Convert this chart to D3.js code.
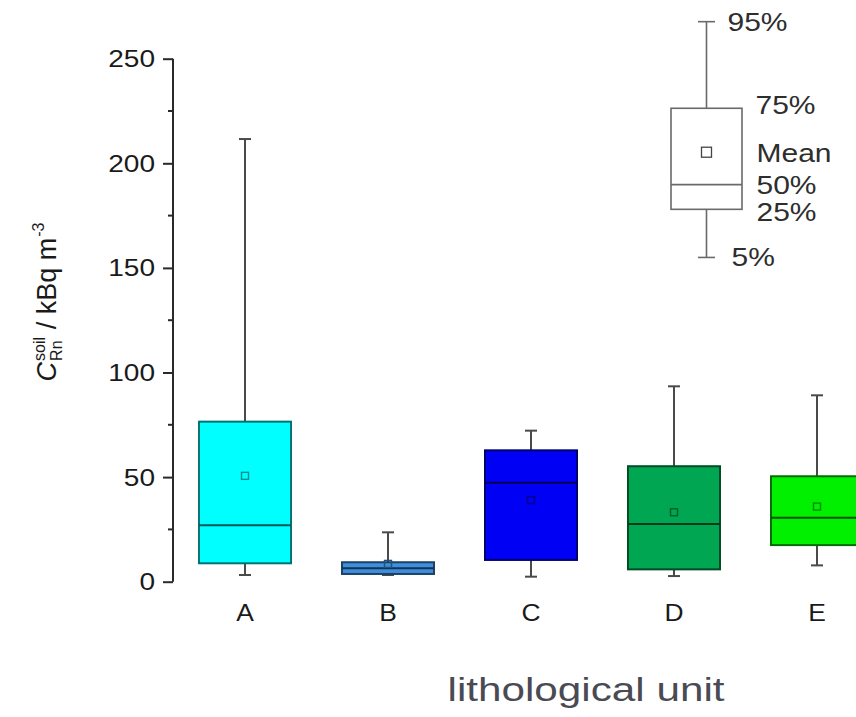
<!DOCTYPE html>
<html>
<head>
<meta charset="utf-8">
<script src="https://cdn.jsdelivr.net/npm/d3@7"></script>
<style>
  html, body { margin: 0; padding: 0; background: #fff; }
  svg { display: block; font-family: "Liberation Sans", Arial, sans-serif; }
</style>
</head>
<body>
<svg id="chart" width="856" height="717"></svg>
<script>
// ---- data ----
const categories = ["A", "B", "C", "D", "E"];
const p5   = [3.2, 3.2, 2.4, 2.7, 7.8];
const p25  = [8.8, 3.7, 10.4, 5.9, 17.5];
const p50  = [27.0, 6.4, 47.3, 27.6, 30.6];
const p75  = [76.5, 9.3, 62.8, 55.2, 50.4];
const p95  = [211.6, 23.6, 72.2, 93.4, 89.1];
const means = [50.6, 8.5, 39.0, 33.2, 35.9];
const yTicks = [0, 50, 100, 150, 200, 250];
const yMinorTicks = [25, 75, 125, 175, 225];
const fills = ["#00FFFF", "#3D8FDE", "#0000F4", "#00A651", "#00F000"];
// legend schematic, expressed on the same value axis
const legendLabels = ["95%", "75%", "Mean", "50%", "25%", "5%"];
const legendStats = { p5: 155, p25: 178, p50: 189.8, mean: 205.3, p75: 226.3, p95: 267.7 };

const svg = d3.select("#chart");

const y = d3.scaleLinear().domain([0, 250]).range([581.7, 58.7]);
const x = d3.scalePoint().domain(categories).range([173.5, 888.5]).padding(0.5);
const boxW = 92, capW = 12;

const rows = categories.map((c, i) => ({
  cat: c, p5: p5[i], p25: p25[i], p50: p50[i], p75: p75[i], p95: p95[i], mean: means[i], fill: fills[i]
}));

// ---- y axis ----
const axisX = 173;
const yAxis = d3.axisLeft(y).tickValues(yTicks).tickSize(10).tickPadding(8).tickFormat(d3.format("d"));
const gy = svg.append("g").attr("transform", `translate(${axisX},0)`).call(yAxis);
gy.select(".domain").attr("stroke", "#2a2a2a").attr("stroke-width", 2).attr("d", `M0,${y(0)}V${y(250)}`);
gy.selectAll(".tick line").attr("stroke", "#2a2a2a").attr("stroke-width", 2);
gy.selectAll(".tick text")
  .attr("fill", "#1a1a1a")
  .attr("font-size", 23)
  .attr("font-family", "Liberation Sans, Arial, sans-serif")
  .attr("x", null).attr("dy", null)
  .attr("text-anchor", "end")
  .attr("dominant-baseline", "central")
  .attr("transform", "translate(-18,0) scale(1.22,1)");
const gyMinor = svg.append("g").attr("transform", `translate(${axisX},0)`);
gyMinor.selectAll("line").data(yMinorTicks).join("line")
  .attr("x1", -5).attr("x2", 0)
  .attr("y1", d => y(d)).attr("y2", d => y(d))
  .attr("stroke", "#2a2a2a").attr("stroke-width", 2);

// ---- x tick labels ----
svg.append("g").selectAll("text").data(categories).join("text")
  .attr("transform", d => `translate(${x(d)},621) scale(1.1,1)`)
  .attr("text-anchor", "middle")
  .attr("font-size", 24)
  .attr("fill", "#1a1a1a")
  .text(d => d);

// ---- boxes ----
const g = svg.append("g");
const boxes = g.selectAll("g.box").data(rows).join("g").attr("class", "box");
// whiskers
boxes.append("line").attr("x1", d => x(d.cat)).attr("x2", d => x(d.cat))
  .attr("y1", d => y(d.p95)).attr("y2", d => y(d.p75))
  .attr("stroke", "#4a4a4a").attr("stroke-width", 2);
boxes.append("line").attr("x1", d => x(d.cat)).attr("x2", d => x(d.cat))
  .attr("y1", d => y(d.p25)).attr("y2", d => y(d.p5))
  .attr("stroke", "#4a4a4a").attr("stroke-width", 2);
boxes.append("line").attr("x1", d => x(d.cat) - capW / 2).attr("x2", d => x(d.cat) + capW / 2)
  .attr("y1", d => y(d.p95)).attr("y2", d => y(d.p95))
  .attr("stroke", "#4a4a4a").attr("stroke-width", 2);
boxes.append("line").attr("x1", d => x(d.cat) - capW / 2).attr("x2", d => x(d.cat) + capW / 2)
  .attr("y1", d => y(d.p5)).attr("y2", d => y(d.p5))
  .attr("stroke", "#4a4a4a").attr("stroke-width", 2);
// box
boxes.append("rect")
  .attr("x", d => x(d.cat) - boxW / 2).attr("width", boxW)
  .attr("y", d => y(d.p75)).attr("height", d => y(d.p25) - y(d.p75))
  .attr("fill", d => d.fill)
  .attr("stroke", d => d3.color(d.fill).darker(2.2))
  .attr("stroke-width", 2);
// median
boxes.append("line")
  .attr("x1", d => x(d.cat) - boxW / 2).attr("x2", d => x(d.cat) + boxW / 2)
  .attr("y1", d => y(d.p50)).attr("y2", d => y(d.p50))
  .attr("stroke", d => d3.color(d.fill).darker(3)).attr("stroke-width", 2);
// mean marker
boxes.append("rect")
  .attr("x", d => x(d.cat) - 3.5).attr("y", d => y(d.mean) - 3.5)
  .attr("width", 7).attr("height", 7)
  .attr("fill", "none")
  .attr("stroke", d => d3.color(d.fill).darker(1.6)).attr("stroke-width", 1.4);

// ---- legend schematic ----
const lx = 706.5, lW = 71, lCap = 17;
const lg = svg.append("g");
const lStroke = "#6a6a6a";
lg.append("line").attr("x1", lx).attr("x2", lx).attr("y1", y(legendStats.p95)).attr("y2", y(legendStats.p75))
  .attr("stroke", lStroke).attr("stroke-width", 1.6);
lg.append("line").attr("x1", lx).attr("x2", lx).attr("y1", y(legendStats.p25)).attr("y2", y(legendStats.p5))
  .attr("stroke", lStroke).attr("stroke-width", 1.6);
[legendStats.p95, legendStats.p5].forEach(v => {
  lg.append("line").attr("x1", lx - lCap / 2).attr("x2", lx + lCap / 2).attr("y1", y(v)).attr("y2", y(v))
    .attr("stroke", lStroke).attr("stroke-width", 1.6);
});
lg.append("rect").attr("x", lx - lW / 2).attr("width", lW)
  .attr("y", y(legendStats.p75)).attr("height", y(legendStats.p25) - y(legendStats.p75))
  .attr("fill", "#fff").attr("stroke", lStroke).attr("stroke-width", 1.6);
lg.append("line").attr("x1", lx - lW / 2).attr("x2", lx + lW / 2)
  .attr("y1", y(legendStats.p50)).attr("y2", y(legendStats.p50))
  .attr("stroke", lStroke).attr("stroke-width", 1.6);
lg.append("rect").attr("x", lx - 5).attr("y", y(legendStats.mean) - 5).attr("width", 10).attr("height", 10)
  .attr("fill", "#fff").attr("stroke", "#444").attr("stroke-width", 1.3);

const legendPos = [
  { v: legendStats.p95, dx: 21 },
  { v: legendStats.p75, dx: 49 },
  { v: legendStats.mean, dx: 50 },
  { v: legendStats.p50, dx: 50 },
  { v: legendStats.p25, dx: 50 },
  { v: legendStats.p5, dx: 25 }
];
const legendDy = [1, -3, 1, 1, 3, 0];
lg.selectAll("text.ll").data(legendLabels).join("text").attr("class", "ll")
  .attr("transform", (d, i) => `translate(${lx + legendPos[i].dx},${y(legendPos[i].v) + legendDy[i]}) scale(1.2,1)`)
  .attr("dominant-baseline", "central")
  .attr("font-size", 25)
  .attr("fill", "#2e2e2e")
  .text(d => d);

// ---- axis titles ----
svg.append("text")
  .attr("x", 586).attr("y", 701)
  .attr("text-anchor", "middle")
  .attr("font-size", 33)
  .attr("fill", "#4a4a55")
  .attr("textLength", 277).attr("lengthAdjust", "spacingAndGlyphs")
  .text("lithological unit");

// y title with stacked super/subscript
const yt = svg.append("g");
const fs = 27, fsSmall = 16;
const parts = yt.append("g");
const tC = parts.append("text").attr("font-size", fs).attr("font-style", "italic").attr("fill", "#1a1a1a").text("C");
const wC = tC.node().getComputedTextLength() + 1;
const tSoil = parts.append("text").attr("x", wC).attr("y", -11).attr("font-size", fsSmall).attr("fill", "#1a1a1a").text("soil");
const tRn = parts.append("text").attr("x", wC).attr("y", 6).attr("font-size", fsSmall).attr("fill", "#1a1a1a").text("Rn");
const wS = Math.max(tSoil.node().getComputedTextLength(), tRn.node().getComputedTextLength());
const tUnit = parts.append("text").attr("x", wC + wS).attr("font-size", fs).attr("fill", "#1a1a1a").text("\u00a0/ kBq m");
const wU = tUnit.node().getComputedTextLength();
const tExp = parts.append("text").attr("x", wC + wS + wU + 1).attr("y", -12).attr("font-size", fsSmall).attr("fill", "#1a1a1a").text("-3");
const total = wC + wS + wU + 1 + tExp.node().getComputedTextLength();
yt.attr("transform", `translate(56,302) rotate(-90) translate(${-total / 2},0)`);
</script>
</body>
</html>
